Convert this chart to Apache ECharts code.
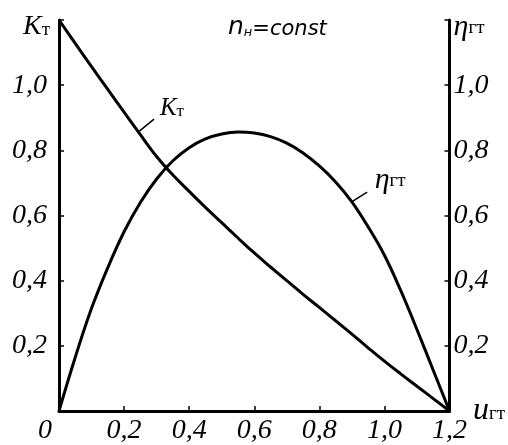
<!DOCTYPE html>
<html>
<head>
<meta charset="utf-8">
<style>
  html, body { margin: 0; padding: 0; background: #fff; }
  #chart { width: 508px; height: 445px; }
</style>
<script src="https://cdn.jsdelivr.net/npm/echarts@6/dist/echarts.min.js"></script>
</head>
<body>
<div id="chart"></div>
<script>
// u_гт values along the x axis
var uValues = [0, 0.05, 0.1, 0.15, 0.2, 0.25, 0.3, 0.35, 0.4, 0.45, 0.5, 0.55, 0.6,
  0.65, 0.7, 0.75, 0.8, 0.85, 0.9, 0.95, 1.0, 1.05, 1.1, 1.15, 1.2];
// K_т (left axis)
var ktValues = [1.2, 1.128, 1.057, 0.987, 0.917, 0.848, 0.781, 0.724, 0.674, 0.625, 0.578, 0.531, 0.485,
  0.442, 0.40, 0.358, 0.318, 0.277, 0.236, 0.194, 0.153, 0.114, 0.076, 0.038, 0];
// η_гт (right axis)
var etaValues = [0, 0.165, 0.315, 0.44, 0.55, 0.64, 0.712, 0.768, 0.808, 0.835, 0.85, 0.856, 0.853,
  0.842, 0.822, 0.792, 0.752, 0.703, 0.642, 0.565, 0.478, 0.37, 0.25, 0.125, 0];

var serif = 'Liberation Serif';

function fmt(v) {
  return v.toFixed(1).replace('.', ',');
}

function pairs(xs, ys) {
  return xs.map(function (x, i) { return [x, ys[i]]; });
}

var chart = echarts.init(document.getElementById('chart'));

var axisLine = { show: true, lineStyle: { color: '#000', width: 3 } };
var axisTick = { show: true, inside: true, length: 5, lineStyle: { color: '#000', width: 1.5 } };
var digit = { fontFamily: serif, fontStyle: 'italic', fontWeight: 'normal', fontSize: 28, color: '#000' };

// rich pieces for the letter + small cyrillic index
var kRich = {
  k: { fontFamily: serif, fontStyle: 'italic', fontSize: 28, color: '#000', verticalAlign: 'bottom' },
  s: { fontFamily: serif, fontSize: 19, color: '#000', verticalAlign: 'bottom', padding: [0, 0, 1, 0] }
};
var etaRich = {
  e: { fontFamily: serif, fontStyle: 'italic', fontSize: 30, color: '#000', verticalAlign: 'bottom' },
  s: { fontFamily: serif, fontSize: 19, color: '#000', verticalAlign: 'bottom', padding: [0, 0, 4, 0] }
};

var option = {
  animation: false,
  backgroundColor: '#fff',
  title: {
    text: '{n|n}{h|н}{c|=const}',
    left: 223,
    top: 10,
    textStyle: {
      fontWeight: 'normal',
      rich: {
        n: { fontFamily: 'DejaVu Sans', fontStyle: 'italic', fontWeight: 'normal', fontSize: 25, color: '#000', verticalAlign: 'bottom' },
        h: { fontFamily: 'DejaVu Sans', fontStyle: 'italic', fontWeight: 'normal', fontSize: 13, color: '#000', verticalAlign: 'bottom', padding: [0, 0, 1, 0] },
        c: { fontFamily: 'DejaVu Sans', fontStyle: 'italic', fontWeight: 'normal', fontSize: 21, color: '#000', verticalAlign: 'bottom' }
      }
    }
  },
  grid: { left: 59, right: 51, top: 20, bottom: 34, containLabel: false },
  xAxis: {
    type: 'value',
    min: 0, max: 1.2, interval: 0.2,
    name: '{u|u}{s|гт}',
    nameLocation: 'end',
    nameGap: 8,
    nameTextStyle: {
      rich: {
        u: { fontFamily: serif, fontStyle: 'italic', fontSize: 32, color: '#000', verticalAlign: 'bottom' },
        s: { fontFamily: serif, fontSize: 19, color: '#000', verticalAlign: 'bottom', padding: [0, 0, 3, 0] }
      }
    },
    axisLine: axisLine,
    axisTick: axisTick,
    splitLine: { show: false },
    axisLabel: {
      margin: 6,
      formatter: function (v) { return v === 0 ? '{z|0}' : '{t|' + fmt(v) + '}'; },
      rich: {
        t: digit,
        z: Object.assign({}, digit, { padding: [0, 28, 0, 0] })
      }
    }
  },
  yAxis: [
    {
      type: 'value',
      position: 'left',
      min: 0, max: 1.2, interval: 0.2,
      name: '{k|K}{s|т}',
      nameLocation: 'end',
      nameGap: -7,
      nameTextStyle: {
        align: 'right',
        verticalAlign: 'middle',
        padding: [0, 9, 0, 0],
        rich: kRich
      },
      axisLine: axisLine,
      axisTick: axisTick,
      splitLine: { show: false },
      axisLabel: {
        margin: 12,
        formatter: function (v) { return (v === 0 || v >= 1.2) ? '' : '{t|' + fmt(v) + '}'; },
        rich: { t: digit }
      }
    },
    {
      type: 'value',
      position: 'right',
      min: 0, max: 1.2, interval: 0.2,
      name: '{e|η}{s|гт}',
      nameLocation: 'end',
      nameGap: -7,
      nameTextStyle: {
        align: 'left',
        verticalAlign: 'middle',
        padding: [0, 0, 0, 4],
        rich: etaRich
      },
      axisLine: axisLine,
      axisTick: axisTick,
      splitLine: { show: false },
      axisLabel: {
        margin: 4,
        formatter: function (v) { return (v === 0 || v >= 1.2) ? '' : '{t|' + fmt(v) + '}'; },
        rich: { t: digit }
      }
    }
  ],
  series: [
    {
      name: 'Kт',
      type: 'line',
      yAxisIndex: 0,
      data: pairs(uValues, ktValues),
      smooth: 0.4,
      symbol: 'none',
      lineStyle: { color: '#000', width: 3 },
      markLine: {
        silent: true,
        symbol: 'none',
        label: { show: false },
        lineStyle: { color: '#000', width: 1.5, type: 'solid' },
        data: [[{ coord: [0.247, 0.859] }, { coord: [0.292, 0.896] }]]
      },
      markPoint: {
        silent: true,
        symbolSize: 0,
        data: [{ coord: [0.31, 0.929] }],
        label: {
          show: true,
          position: 'right',
          distance: 0,
          formatter: '{k|K}{s|т}',
          rich: {
            k: { fontFamily: serif, fontStyle: 'italic', fontSize: 25, color: '#000', verticalAlign: 'bottom' },
            s: { fontFamily: serif, fontSize: 17, color: '#000', verticalAlign: 'bottom', padding: [0, 0, 1, 0] }
          }
        }
      }
    },
    {
      name: 'ηгт',
      type: 'line',
      yAxisIndex: 1,
      data: pairs(uValues, etaValues),
      smooth: 0.4,
      symbol: 'none',
      lineStyle: { color: '#000', width: 3 },
      markLine: {
        silent: true,
        symbol: 'none',
        label: { show: false },
        lineStyle: { color: '#000', width: 1.5, type: 'solid' },
        data: [[{ coord: [0.898, 0.641] }, { coord: [0.947, 0.672] }]]
      },
      markPoint: {
        silent: true,
        symbolSize: 0,
        data: [{ coord: [0.97, 0.709] }],
        label: {
          show: true,
          position: 'right',
          distance: 0,
          formatter: '{e|η}{s|гт}',
          rich: etaRich
        }
      }
    }
  ]
};

chart.setOption(option);
window.addEventListener('resize', chart.resize);
</script>
</body>
</html>
